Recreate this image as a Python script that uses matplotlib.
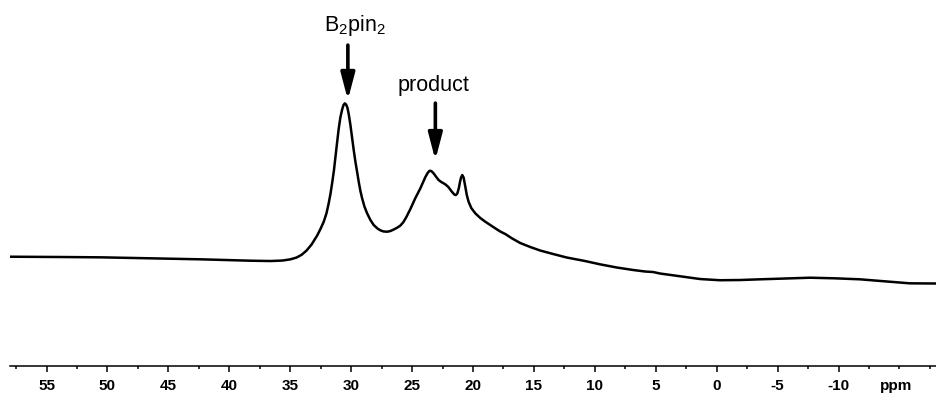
import matplotlib
matplotlib.use('Agg')
import matplotlib.pyplot as plt
import numpy as np

plt.rcParams['font.family'] = ['Liberation Sans', 'DejaVu Sans']
plt.rcParams['mathtext.fontset'] = 'custom'
plt.rcParams['mathtext.rm'] = 'Liberation Sans'

# 11B spectrum (ppm, normalised intensity)
ppm = [57.93, 53.83, 50.55, 46.45, 42.35, 38.25, 36.61, 35.63, 34.98, 34.48,
       34.07, 33.66, 33.25, 32.79, 32.52, 32.25, 32.02, 31.84, 31.70, 31.56,
       31.41, 31.29, 31.15, 31.02, 30.88, 30.74, 30.63, 30.52, 30.41, 30.30,
       30.20, 30.06, 29.92, 29.79, 29.65, 29.51, 29.38, 29.24, 29.10, 28.91,
       28.69, 28.42, 28.15, 27.84, 27.60, 27.35, 27.05, 26.78, 26.51, 26.20,
       25.96, 25.71, 25.47, 25.14, 24.73, 24.32, 23.91, 23.70, 23.56, 23.42,
       23.23, 23.01, 22.82, 22.60, 22.27, 22.02, 21.78, 21.53, 21.41, 21.29,
       21.16, 21.07, 20.98, 20.88, 20.77, 20.63, 20.51, 20.36, 20.14, 19.81,
       19.40, 18.99, 18.58, 18.17, 17.76, 17.35, 16.78, 16.12, 15.30, 14.48,
       13.42, 12.30, 10.80, 9.57, 8.19, 6.84, 5.88, 5.22, 4.65, 2.74,
       1.37, -0.27, -1.91, -3.55, -5.60, -7.65, -9.70, -11.75, -14.21, -15.84,
       -17.98]
intensity = [41.54, 41.43, 41.31, 40.93, 40.55, 40.02, 39.90, 40.09, 40.55, 41.23,
             42.26, 43.90, 46.19, 49.62, 52.10, 54.88, 58.19, 62.00, 65.43, 69.63,
             74.58, 79.53, 85.25, 90.40, 94.78, 97.64, 99.35, 100.0, 99.54, 98.21,
             95.92, 91.73, 86.78, 82.20, 77.74, 73.82, 70.12, 66.58, 63.80, 60.67,
             58.08, 55.53, 53.62, 52.29, 51.60, 51.18, 51.07, 51.33, 51.91, 52.67,
             53.43, 54.76, 56.67, 59.72, 63.91, 67.61, 71.91, 73.63, 74.31, 74.20,
             73.32, 71.91, 70.77, 70.01, 69.13, 68.10, 66.58, 65.24, 65.05, 65.63,
             67.72, 70.01, 71.72, 72.68, 71.72, 68.22, 65.05, 62.50, 60.10, 58.08,
             56.29, 54.88, 53.62, 52.36, 51.14, 50.19, 48.48, 46.76, 45.24, 43.90,
             42.57, 41.23, 39.90, 38.64, 37.42, 36.47, 35.90, 35.71, 35.14, 33.92,
             33.04, 32.58, 32.66, 32.93, 33.23, 33.54, 33.31, 32.93, 32.01, 31.40,
             31.33]

major_ticks = [55, 50, 45, 40, 35, 30, 25, 20, 15, 10, 5, 0, -5, -10]
minor_ticks = [57.5, 52.5, 47.5, 42.5, 37.5, 32.5, 27.5, 22.5, 17.5, 12.5,
               7.5, 2.5, -2.5, -7.5, -12.5, -15, -17.5]

fig = plt.figure(figsize=(9.36, 3.94), dpi=100)
ax = fig.add_axes([10 / 936, 28.3 / 394, 926 / 936, 365.7 / 394])

ax.plot(ppm, intensity, color='black', lw=1.8, solid_joinstyle='round')

ax.set_xlim(58.0, -18.0)
ax.set_ylim(0, 139.4)

for s in ['top', 'left', 'right']:
    ax.spines[s].set_visible(False)
ax.spines['bottom'].set_linewidth(1.1)
ax.set_yticks([])

ax.set_xticks(major_ticks)
ax.set_xticklabels([str(t) for t in major_ticks], fontsize=11, fontweight='bold')
ax.set_xticks(minor_ticks, minor=True)
ax.tick_params(axis='x', which='major', direction='out', length=4, width=1.1, pad=5.5)
ax.tick_params(axis='x', which='minor', direction='out', length=2.5, width=1.1)

ax.annotate('ppm', xy=(-14.7, 0), xycoords=('data', 'axes fraction'),
            xytext=(0, -9.5), textcoords='offset points',
            ha='center', va='top', fontsize=11, fontweight='bold')

# peak labels with arrows
arrow = dict(arrowstyle='-|>,head_length=1.6,head_width=0.42', color='black',
             lw=2.6, shrinkA=0, shrinkB=0, mutation_scale=10)
ax.annotate('', xy=(30.27, 101.3), xytext=(30.27, 122.2), arrowprops=arrow)
ax.text(29.69, 127.6, r'B$_\mathregular{2}$pin$_\mathregular{2}$',
        ha='center', va='baseline', fontsize=15.5)

ax.annotate('', xy=(23.09, 78.4), xytext=(23.09, 100.1), arrowprops=arrow)
ax.text(23.21, 104.7, 'product', ha='center', va='baseline', fontsize=15.5)

fig.savefig('out.png', dpi=100)
